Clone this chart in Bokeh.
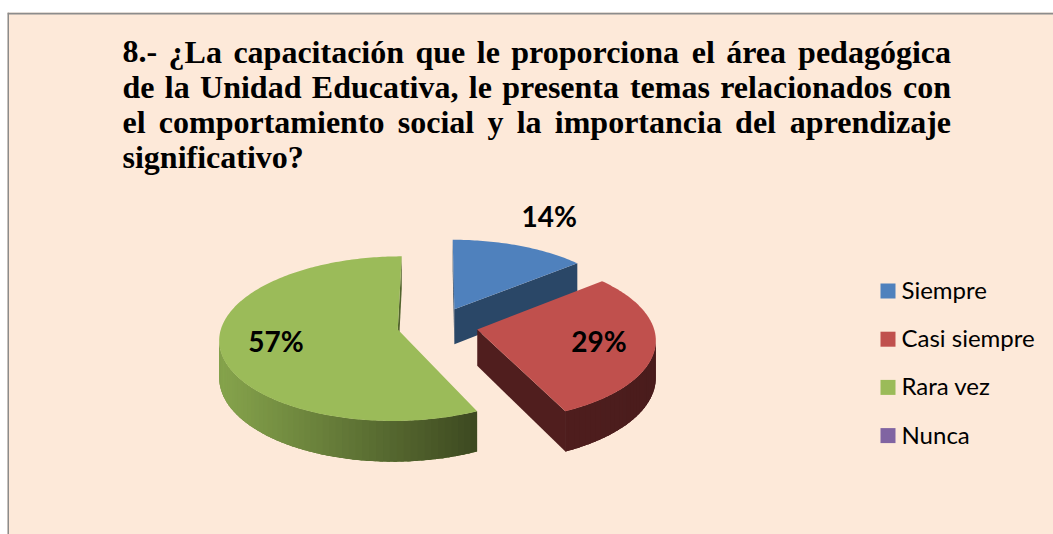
import numpy as np
from bokeh.plotting import figure
from bokeh.models import Range1d, Span, ColumnDataSource
from bokeh.core.properties import value
from bokeh.embed import file_html
from bokeh.resources import INLINE

# ---------------- data ----------------
categories = ["Siempre", "Casi siempre", "Rara vez", "Nunca"]
percent = [14, 29, 57, 0]
labels = ["14%", "29%", "57%", "0%"]
title_lines = [
    "8.- ¿La capacitación que le proporciona el área pedagógica",
    "de la Unidad Educativa, le presenta temas relacionados con",
    "el comportamiento social y la importancia del aprendizaje",
    "significativo?",
]

# ---------------- style ----------------
top_colors = ["#4F81BD", "#C0504D", "#9BBB59", "#8064A2"]
side_light = ["#2B4868", "#521F1F", "#86A44C", "#4A3A60"]
side_dark = ["#2A4766", "#4A1C1C", "#3C4820", "#3A2D4C"]
BG = "#FDE9D9"
TXT_SHIFT = 0.39  # empirical baseline correction (fraction of font size)

# projection parameters (screen pixels)
OX, OY = 437.0, 325.0
R, K, A, D, E = 176.0, 80.4, 0.11, 36.0, 0.23


def proj(X, Z, h):
    s = 1.0 / (1.0 + A * Z)
    return OX + R * X * s, OY - K * Z * s + D * h * s


def area(xs, ys):
    xs = np.asarray(xs); ys = np.asarray(ys)
    return np.sum(xs * np.roll(ys, -1) - np.roll(xs, -1) * ys)


def hex2rgb(c):
    c = c.lstrip("#")
    return np.array([int(c[i:i + 2], 16) for i in (0, 2, 4)], dtype=float)


def lerp_col(c1, c2, t):
    a, b = hex2rgb(c1), hex2rgb(c2)
    r = a + (b - a) * min(max(t, 0.0), 1.0)
    return "#%02x%02x%02x" % tuple(int(round(v)) for v in r)


p = figure(width=1053, height=534, output_backend="svg", toolbar_location=None,
           x_range=Range1d(7, 1053), y_range=Range1d(534, 12),
           x_axis_type=None, y_axis_type=None,
           min_border_top=12, min_border_left=7, min_border_right=0, min_border_bottom=0)
p.background_fill_color = BG
p.border_fill_color = "white"
p.outline_line_color = None
p.grid.visible = False
p.add_layout(Span(location=13, dimension="width", line_color="#8C8C8C", line_width=2))
p.add_layout(Span(location=7.5, dimension="height", line_color="#8C8C8C", line_width=2))

# ---------------- 3D pie ----------------
total = float(sum(percent))
angles = np.cumsum([0.0] + [v / total * 2 * np.pi for v in percent])
slices = []
for i, v in enumerate(percent):
    if v <= 0:
        continue
    ta, tb = angles[i], angles[i + 1]
    m = 0.5 * (ta + tb)
    ex, ez = E * np.sin(m), E * np.cos(m)
    slices.append((ez, i, ta, tb, m, ex))
slices.sort(key=lambda s: -s[0])  # back first

pxs, pys, pcols = [], [], []
label_x, label_y, label_t = [], [], []


def rim(ex, ez, t, h):
    return proj(ex + np.sin(t), ez + np.cos(t), h)


for ez, i, ta, tb, m, ex in slices:
    n = max(int((tb - ta) / (2 * np.pi) * 360), 4)
    th = np.linspace(ta, tb, n + 1)
    allx = [rim(ex, ez, t, 0)[0] for t in th] + [proj(ex, ez, 0)[0]]
    xmin, xmax = min(allx), max(allx)

    def col_at(xc):
        t = (xc - xmin) / (xmax - xmin) if xmax > xmin else 0.0
        return lerp_col(side_light[i], side_dark[i], t)

    # radial faces
    for tt, first in ((ta, True), (tb, False)):
        a0 = proj(ex, ez, 0); a1 = proj(ex, ez, 1)
        r0 = rim(ex, ez, tt, 0); r1 = rim(ex, ez, tt, 1)
        quad = [a0, a1, r1, r0] if first else [a0, r0, r1, a1]
        qx = [q[0] for q in quad]; qy = [q[1] for q in quad]
        if area(qx, qy) > 0:
            pxs.append(qx); pys.append(qy); pcols.append(col_at(np.mean(qx)))
    # outer wall: visible segments
    vis = []
    for k in range(n):
        t0, t1 = th[k], th[k + 1]
        q = [rim(ex, ez, t1, 0), rim(ex, ez, t0, 0), rim(ex, ez, t0, 1), rim(ex, ez, t1, 1)]
        if area([a[0] for a in q], [a[1] for a in q]) > 0:
            vis.append(k)
    if vis:
        k0, k1 = vis[0], vis[-1] + 1
        tw = th[k0:k1 + 1]
        top = [rim(ex, ez, t, 0) for t in tw]
        bot = [rim(ex, ez, t, 1) for t in tw[::-1]]
        bx = [a[0] for a in top + bot]; by = [a[1] for a in top + bot]
        pxs.append(bx); pys.append(by); pcols.append(col_at(np.mean(bx)))
        step = 2
        for k in range(k0, k1, step):
            t0 = th[k]
            t1 = th[min(k + step + 1, k1)]
            q = [rim(ex, ez, t1, 0), rim(ex, ez, t0, 0), rim(ex, ez, t0, 1), rim(ex, ez, t1, 1)]
            qx = [a[0] for a in q]; qy = [a[1] for a in q]
            pxs.append(qx); pys.append(qy); pcols.append(col_at(np.mean(qx)))
    # top face
    tp = [proj(ex, ez, 0)] + [rim(ex, ez, t, 0) for t in th]
    pxs.append([a[0] for a in tp]); pys.append([a[1] for a in tp]); pcols.append(top_colors[i])
    # label (outside for small slices, inside otherwise)
    frac = percent[i] / total
    rl = 1.52 if frac < 0.2 else 0.69
    lx, ly = proj(ex + rl * np.sin(m), ez + rl * np.cos(m), 0)
    label_x.append(lx); label_y.append(ly)
    label_t.append(labels[i])

LFS = 28
src = ColumnDataSource(dict(xs=pxs, ys=pys, c=pcols))
p.patches("xs", "ys", source=src, fill_color="c", line_color=None)

p.text(x=label_x, y=[y + 0.36 * LFS - TXT_SHIFT * LFS for y in label_y], text=label_t,
       text_font=value("Lato"), text_font_style="bold",
       text_font_size="%dpx" % LFS, text_align="center", text_baseline="alphabetic",
       text_color="black")

# ---------------- legend ----------------
GFS = 24
leg_y = [290.5 + 48.2 * j for j in range(len(categories))]
p.scatter(x=[887.5] * len(categories), y=leg_y, marker="square", size=15,
          fill_color=top_colors, line_color=None)
p.text(x=[901] * len(categories), y=[y + 0.33 * GFS - TXT_SHIFT * GFS for y in leg_y],
       text=categories, text_font=value("Lato"), text_font_size="%dpx" % GFS,
       text_baseline="alphabetic", text_align="left", text_color="black")

# ---------------- title (justified) ----------------
W = {'8': 500, '.': 250, '-': 333, '¿': 500, 'L': 667, 'a': 500, 'c': 444, 'p': 556, 'i': 278,
     't': 333, 'ó': 500, 'n': 556, 'q': 556, 'u': 556, 'e': 444, 'l': 278, 'r': 444, 'o': 500,
     'á': 500, 'd': 556, 'g': 500, 'U': 722, 'E': 667, 'v': 500, ',': 250, 'm': 833, 's': 389,
     'y': 500, 'z': 444, 'j': 333, 'f': 333, '?': 500, ' ': 250}
FS = 32.0
LEFT, RIGHT = 122.0, 950.5
BASE0, LSTEP = 63.5, 35.3


def wwidth(w):
    return sum(W.get(ch, 500) for ch in w) * FS / 1000.0


lx_, ly_, lt_ = [], [], []
rx_, ry_, rt_ = [], [], []
for li, line in enumerate(title_lines):
    yb = BASE0 + LSTEP * li - TXT_SHIFT * FS
    words = line.split(" ")
    if li == len(title_lines) - 1 or len(words) == 1:
        lx_.append(LEFT); ly_.append(yb); lt_.append(line)
        continue
    widths = [wwidth(w) for w in words]
    gap = (RIGHT - LEFT - sum(widths)) / (len(words) - 1)
    x = LEFT
    for wi, w in enumerate(words):
        if wi == len(words) - 1:
            rx_.append(RIGHT); ry_.append(yb); rt_.append(w)
        else:
            lx_.append(x); ly_.append(yb); lt_.append(w)
        x += widths[wi] + gap

tkw = dict(text_font=value("Liberation Serif"), text_font_style="bold",
           text_font_size="%dpx" % FS, text_baseline="alphabetic", text_color="black")
p.text(x=lx_, y=ly_, text=lt_, text_align="left", **tkw)
p.text(x=rx_, y=ry_, text=rt_, text_align="right", **tkw)

open("out.html", "w").write(file_html(p, INLINE))
